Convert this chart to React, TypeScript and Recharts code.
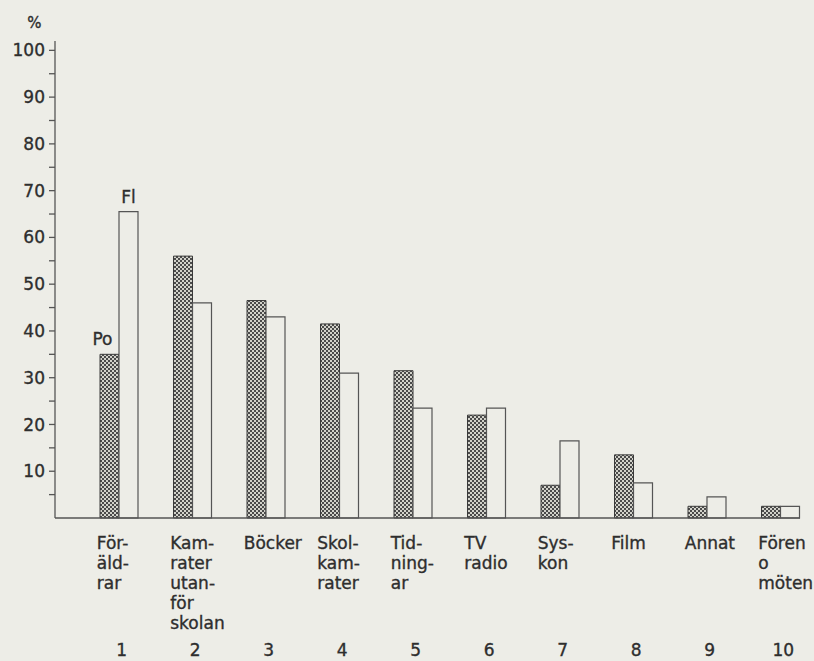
import React from 'react';
import { BarChart, Bar, XAxis, YAxis, LabelList } from 'recharts';

const categories = ['1', '2', '3', '4', '5', '6', '7', '8', '9', '10'];
const categoryLabels = [
  ['För-', 'äld-', 'rar'],
  ['Kam-', 'rater', 'utan-', 'för', 'skolan'],
  ['Böcker'],
  ['Skol-', 'kam-', 'rater'],
  ['Tid-', 'ning-', 'ar'],
  ['TV', 'radio'],
  ['Sys-', 'kon'],
  ['Film'],
  ['Annat'],
  ['Fören', 'o', 'möten'],
];
const poValues = [35, 56, 46.5, 41.5, 31.5, 22, 7, 13.5, 2.5, 2.5];
const flValues = [65.5, 46, 43, 31, 23.5, 23.5, 16.5, 7.5, 4.5, 2.5];
const yTicks = [5, 10, 15, 20, 25, 30, 35, 40, 45, 50, 55, 60, 65, 70, 75, 80, 85, 90, 95, 100];

const data = categories.map((c, i) => ({
  num: c,
  po: poValues[i],
  fl: flValues[i],
}));

const FONT = '"DejaVu Sans", sans-serif';
const INK = '#2e2e2e';
const BG = '#ededE7';

// helper so the scanned, slightly heavy lettering comes through
const textStyle = { fontFamily: FONT, fill: INK, stroke: INK, strokeWidth: 0.35 };

const CategoryTick = (props: any) => {
  const { x, y, index } = props;
  const lines = categoryLabels[index] || [];
  return (
    <g>
      {lines.map((l, i) => (
        <text key={i} x={x - 22} y={y + 31 + i * 20} textAnchor="start" fontSize={17} {...textStyle}>
          {l}
        </text>
      ))}
      <text x={x + 3} y={y + 138} textAnchor="middle" fontSize={17} {...textStyle}>
        {categories[index]}
      </text>
    </g>
  );
};

const seriesLabel = (name: string, dx: number) => (props: any) => {
  if (props.index !== 0) return null;
  const { x, y, width } = props;
  return (
    <text x={x + width / 2 + dx} y={y - 9} textAnchor="middle" fontSize={17} {...textStyle}>
      {name}
    </text>
  );
};

export default function App() {
  return (
    <div style={{ position: 'absolute', left: 0, top: 0, width: 814, height: 661, background: BG }}>
      <svg width={0} height={0} style={{ position: 'absolute' }}>
        <defs>
          <pattern id="dots" width={4} height={4} patternUnits="userSpaceOnUse">
            <rect width={4} height={4} fill="#d2d2ca" />
            <rect x={0} y={0} width={2} height={2} fill="#4a4a4a" />
            <rect x={2} y={2} width={2} height={2} fill="#4a4a4a" />
          </pattern>
        </defs>
      </svg>
      <BarChart
        width={814}
        height={661}
        data={data}
        margin={{ top: 41, right: 14, left: 0, bottom: 0 }}
        barGap={0}
        barSize={19}
      >
        <XAxis
          dataKey="num"
          height={143}
          axisLine={{ stroke: '#555', strokeWidth: 1.5 }}
          tickLine={false}
          tickSize={0}
          tickMargin={0}
          interval={0}
          padding={{ left: 27, right: -17 }}
          tick={<CategoryTick />}
        />
        <YAxis
          width={55}
          domain={[0, 102]}
          ticks={yTicks}
          interval={0}
          tickSize={6}
          tickMargin={4}
          axisLine={{ stroke: '#555', strokeWidth: 1.3 }}
          tickLine={{ stroke: '#555', strokeWidth: 1.3 }}
          tickFormatter={(v: number) => (v % 10 === 0 ? String(v) : '')}
          tick={{ fontSize: 17, ...textStyle }}
          label={{ value: '%', position: 'top', offset: 13, dx: 7, fontSize: 15, ...textStyle }}
        />
        <Bar dataKey="po" name="Po" fill="url(#dots)" stroke="#3a3a3a" strokeWidth={1} isAnimationActive={false}>
          <LabelList dataKey="po" content={seriesLabel('Po', -7)} />
        </Bar>
        <Bar dataKey="fl" name="Fl" fill={BG} stroke="#555" strokeWidth={1.2} isAnimationActive={false}>
          <LabelList dataKey="fl" content={seriesLabel('Fl', 0)} />
        </Bar>
      </BarChart>
    </div>
  );
}
